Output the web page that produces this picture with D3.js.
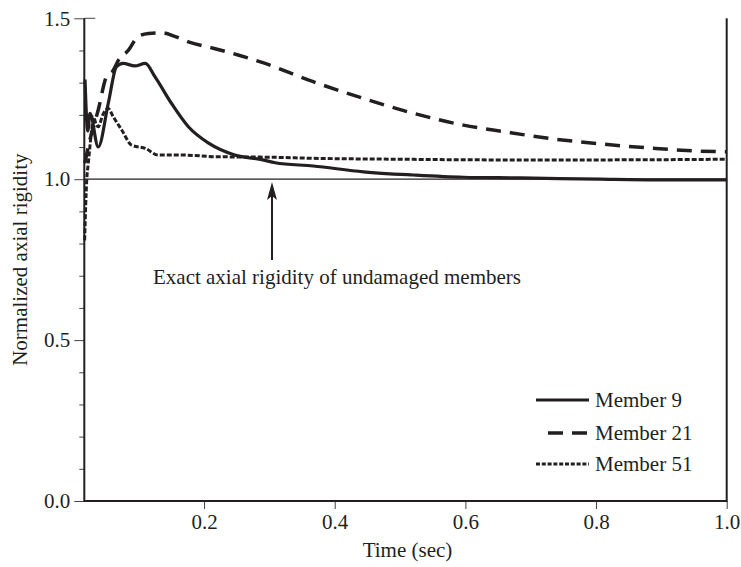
<!DOCTYPE html>
<meta charset="utf-8">

<script src="https://d3js.org/d3.v7.min.js"></script>

<style type="text/css">

body {
    margin: 0;
    background: #fff;
}

text {
    font-family: "Liberation Serif", "Times New Roman", serif;
    fill: #231f20;
}

.axis path {
    display: none;
}

.axis line {
    stroke: #444;
    stroke-width: 1px;
}

.axis text {
    font-size: 21px;
}

.frame {
    stroke: #231f20;
    stroke-width: 2px;
    fill: none;
}

.series {
    fill: none;
    stroke: #231f20;
}

</style>

<body>
</body>

<script>

// time (sec) and normalized axial rigidity
var member9Time  = [0.0178, 0.022, 0.0254, 0.038, 0.0534, 0.066, 0.076, 0.094, 0.11, 0.125, 0.15, 0.176, 0.207, 0.247, 0.29, 0.309, 0.367, 0.444, 0.52, 0.597, 0.684, 0.806, 0.9, 1.0];
var member9Value = [1.31, 1.15, 1.205, 1.10, 1.236, 1.35, 1.36, 1.352, 1.36, 1.318, 1.236, 1.163, 1.112, 1.075, 1.06, 1.051, 1.041, 1.023, 1.013, 1.006, 1.004, 1.0, 0.998, 0.998];

var member21Time  = [0.0175, 0.025, 0.038, 0.051, 0.06, 0.069, 0.084, 0.099, 0.115, 0.135, 0.156, 0.176, 0.214, 0.252, 0.29, 0.367, 0.444, 0.52, 0.597, 0.658, 0.735, 0.811, 0.888, 0.95, 1.0];
var member21Value = [1.05, 1.12, 1.215, 1.32, 1.335, 1.37, 1.40, 1.443, 1.453, 1.455, 1.443, 1.427, 1.407, 1.386, 1.362, 1.303, 1.251, 1.205, 1.168, 1.148, 1.125, 1.109, 1.096, 1.088, 1.085];

var member51Time  = [0.0172, 0.0204, 0.0228, 0.028, 0.0305, 0.035, 0.038, 0.045, 0.0534, 0.061, 0.074, 0.089, 0.11, 0.13, 0.166, 0.217, 0.309, 0.367, 0.5, 0.65, 0.8, 1.0];
var member51Value = [0.81, 0.997, 1.049, 1.153, 1.194, 1.17, 1.163, 1.20, 1.22, 1.194, 1.153, 1.106, 1.096, 1.075, 1.075, 1.07, 1.068, 1.065, 1.062, 1.06, 1.06, 1.062];

var seriesNames = ['Member 9', 'Member 21', 'Member 51'];

var xTicks = [0.2, 0.4, 0.6, 0.8, 1.0];
var yTicks = [0.0, 0.5, 1.0, 1.5];
var yMinorTicks = [0.1, 0.2, 0.3, 0.4, 0.6, 0.7, 0.8, 0.9, 1.1, 1.2, 1.3, 1.4];

var xLabel = 'Time (sec)';
var yLabel = 'Normalized axial rigidity';
var noteText = 'Exact axial rigidity of undamaged members';

var exactValue = 1.0;

function zip(t, v) {
    return t.map(function(d, i) { return {t: d, v: v[i]}; });
}

var series = [
    {name: seriesNames[0], data: zip(member9Time, member9Value), width: 3.2, dash: null, legendDash: null},
    {name: seriesNames[1], data: zip(member21Time, member21Value), width: 3.5, dash: '15,9', legendDash: '15,9'},
    {name: seriesNames[2], data: zip(member51Time, member51Value), width: 3, dash: '5,2', legendDash: '4,1.8'}
];

var width = 741, height = 567;
var margin = {top: 18.3, right: 14.3, bottom: 66, left: 84.3};

var svg = d3.select('body').append('svg')
    .attr('width', width)
    .attr('height', height);

var xScale = d3.scaleLinear()
    .domain([0.0167, 1.0])
    .range([margin.left, width - margin.right]);

var yScale = d3.scaleLinear()
    .domain([0, 1.5])
    .range([height - margin.bottom, margin.top]);

// axes
var xAxis = d3.axisBottom(xScale)
    .tickValues(xTicks)
    .tickFormat(d3.format('.1f'))
    .tickSizeInner(8)
    .tickSizeOuter(0)
    .tickPadding(5);

var yAxis = d3.axisLeft(yScale)
    .tickValues(yTicks)
    .tickFormat(d3.format('.1f'))
    .tickSizeInner(10)
    .tickSizeOuter(0)
    .tickPadding(4);

var yMinorAxis = d3.axisLeft(yScale)
    .tickValues(yMinorTicks)
    .tickFormat('')
    .tickSizeInner(5)
    .tickSizeOuter(0);

svg.append('g')
    .attr('class', 'x axis')
    .attr('transform', 'translate(0,' + yScale(0) + ')')
    .call(xAxis);

svg.append('g')
    .attr('class', 'y axis')
    .attr('transform', 'translate(' + xScale.range()[0] + ',0)')
    .call(yAxis);

svg.append('g')
    .attr('class', 'y axis minor')
    .attr('transform', 'translate(' + xScale.range()[0] + ',0)')
    .call(yMinorAxis);

// little stub at the top, the 1.5 tick crosses the axis
svg.append('line')
    .attr('x1', xScale.range()[0])
    .attr('x2', xScale.range()[0] + 11)
    .attr('y1', yScale(1.5))
    .attr('y2', yScale(1.5))
    .style('stroke', '#444')
    .style('stroke-width', 1);

// frame: left, bottom, right
svg.append('path')
    .attr('class', 'frame')
    .attr('d', 'M' + xScale.range()[0] + ',' + yScale(1.5) +
               'V' + yScale(0) +
               'H' + xScale.range()[1] +
               'V' + yScale(1.5));

// reference line at 1.0
svg.append('line')
    .attr('x1', xScale.range()[0])
    .attr('x2', xScale.range()[1])
    .attr('y1', yScale(exactValue))
    .attr('y2', yScale(exactValue))
    .style('stroke', '#231f20')
    .style('stroke-width', 1.2);

// lines
var line = d3.line()
    .x(function(d) { return xScale(d.t); })
    .y(function(d) { return yScale(d.v); })
    .curve(d3.curveMonotoneX);

svg.selectAll('.series')
    .data(series)
    .enter()
    .append('path')
    .attr('class', 'series')
    .attr('d', function(d) { return line(d.data); })
    .style('stroke-width', function(d) { return d.width; })
    .style('stroke-dasharray', function(d) { return d.dash; });

// axis titles
svg.append('text')
    .attr('x', (xScale.range()[0] + xScale.range()[1]) / 2 + 2)
    .attr('y', 557)
    .attr('text-anchor', 'middle')
    .style('font-size', '21px')
    .text(xLabel);

svg.append('text')
    .attr('transform', 'translate(27,' + (yScale(0.75)) + ') rotate(-90)')
    .attr('text-anchor', 'middle')
    .style('font-size', '21px')
    .text(yLabel);

// annotation with arrow
var arrowX = xScale(0.304);
var arrowTip = yScale(0.991);
var arrowBase = yScale(0.749);

svg.append('line')
    .attr('x1', arrowX)
    .attr('x2', arrowX)
    .attr('y1', arrowBase)
    .attr('y2', arrowTip + 12)
    .style('stroke', '#231f20')
    .style('stroke-width', 2);

svg.append('path')
    .attr('d', 'M' + arrowX + ',' + arrowTip +
               'L' + (arrowX - 5) + ',' + (arrowTip + 18) +
               'L' + arrowX + ',' + (arrowTip + 14) +
               'L' + (arrowX + 5) + ',' + (arrowTip + 18) + 'Z')
    .style('fill', '#231f20');

svg.append('text')
    .attr('x', 153)
    .attr('y', 284)
    .style('font-size', '21px')
    .text(noteText);

// legend
var legend = svg.selectAll('.legendItem')
    .data(series)
    .enter()
    .append('g')
    .attr('class', 'legendItem')
    .attr('transform', function(d, i) { return 'translate(536,' + [400, 433, 464][i] + ')'; });

legend.append('line')
    .attr('x1', function(d, i) { return i == 1 ? 12 : 0; })
    .attr('x2', 53)
    .attr('y1', 0)
    .attr('y2', 0)
    .style('stroke', '#231f20')
    .style('stroke-width', function(d) { return d.width; })
    .style('stroke-dasharray', function(d) { return d.legendDash; });

legend.append('text')
    .attr('x', 59)
    .attr('y', 7)
    .style('font-size', '21px')
    .text(function(d) { return d.name; });

</script>
